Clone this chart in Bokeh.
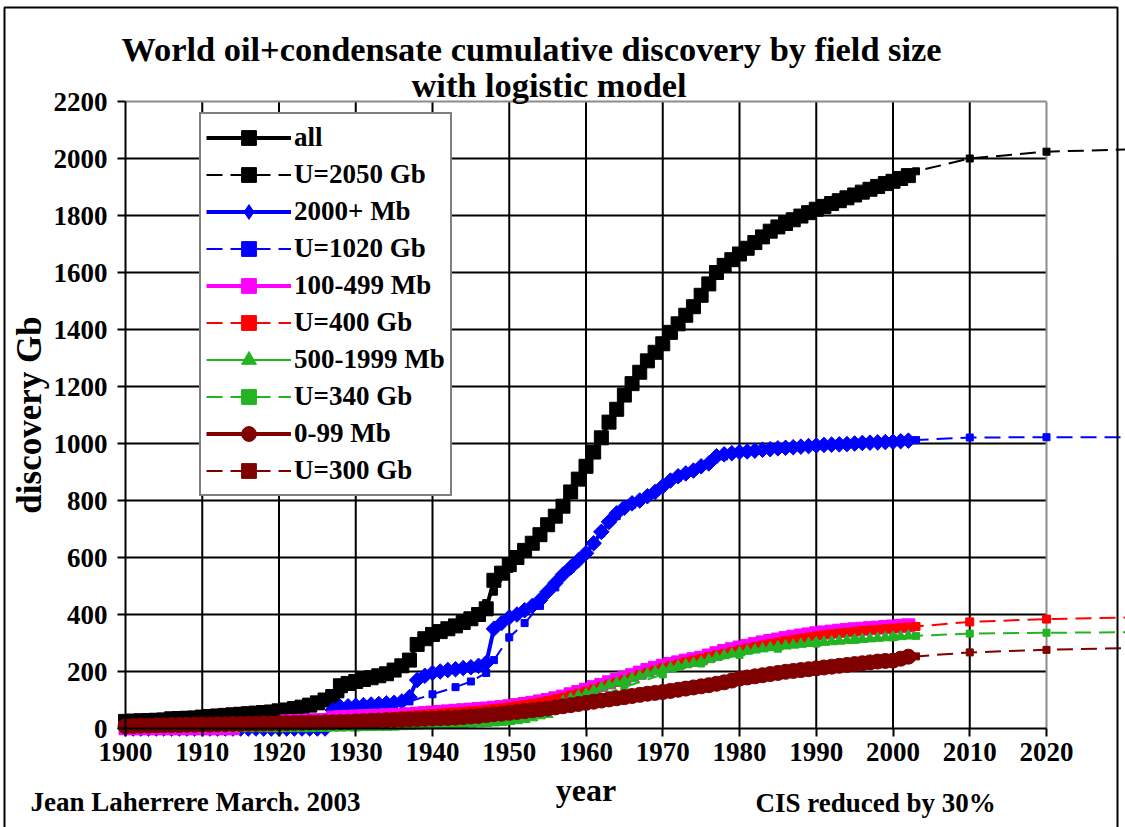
from bokeh.plotting import figure
from bokeh.models import Range1d, FixedTicker, Label, BoxAnnotation, Legend, LegendItem
from bokeh.embed import file_html
from bokeh.resources import INLINE

# ---------------- data (Gb) ----------------
YEARS = list(range(1900, 2003))

ALL = [25, 26, 27, 28, 29, 30, 34, 35, 36, 37,
       40, 42, 44, 46, 48, 50, 52, 54, 56, 58,
       62, 65, 70, 75, 82, 90, 100, 112, 150, 158,
       165, 172, 178, 185, 192, 205, 220, 240, 295, 315,
       330, 340, 350, 360, 372, 385, 400, 420, 520, 545,
       575, 600, 625, 650, 680, 715, 745, 780, 830, 875,
       920, 970, 1020, 1075, 1120, 1170, 1210, 1250, 1290, 1320,
       1350, 1390, 1420, 1450, 1480, 1520, 1560, 1600, 1625, 1645,
       1665, 1685, 1705, 1725, 1745, 1760, 1772, 1785, 1798, 1810,
       1822, 1832, 1842, 1852, 1862, 1872, 1882, 1892, 1902, 1912,
       1920, 1930, 1940]

GIANT = [0, 0, 0, 0, 0, 0, 0, 0, 0, 0,
         0, 0, 0, 0, 0, 0, 0, 0, 0, 0,
         0, 0, 0, 0, 0, 0, 0, 65, 75, 78,
         80, 82, 84, 86, 88, 90, 95, 110, 170, 185,
         195, 200, 205, 208, 212, 215, 220, 230, 350, 370,
         390, 400, 415, 430, 450, 480, 510, 540, 565, 590,
         615, 650, 690, 725, 755, 775, 790, 800, 815, 830,
         850, 870, 885, 895, 905, 920, 930, 955, 962, 966,
         970, 972, 975, 978, 980, 983, 985, 987, 989, 991,
         993, 995, 996, 997, 998, 1000, 1002, 1003, 1004, 1005,
         1006, 1008, 1010]

MID = [1, 1, 1, 1, 1, 1, 1, 1, 1, 1,
       1, 1, 1, 1, 1, 12, 13, 14, 15, 16,
       18, 25, 26, 27, 28, 29, 30, 38, 40, 41,
       42, 43, 44, 45, 46, 47, 48, 50, 52, 54,
       56, 58, 60, 62, 64, 66, 68, 70, 73, 75,
       78, 82, 86, 90, 95, 100, 106, 112, 120, 128,
       136, 145, 153, 162, 170, 178, 187, 196, 205, 213,
       220, 226, 232, 238, 243, 248, 256, 264, 272, 278,
       284, 290, 296, 302, 307, 312, 317, 322, 326, 330,
       334, 337, 340, 343, 346, 348, 350, 352, 354, 356,
       358, 360, 362]

LARGE = [0, 0, 0, 0, 0, 0, 0, 0, 0, 0,
         0, 0, 0, 0, 0, 0, 0, 0, 0, 0,
         0, 0, 0, 0, 0, 1, 1, 2, 2, 3,
         3, 4, 4, 5, 5, 6, 7, 8, 9, 10,
         11, 12, 13, 14, 15, 16, 17, 18, 20, 22,
         25, 28, 32, 38, 45, 50, 70, 95, 105, 115,
         122, 133, 143, 152, 160, 168, 176, 184, 192, 200,
         207, 213, 219, 224, 229, 234, 242, 250, 256, 262,
         267, 272, 276, 280, 284, 287, 290, 293, 296, 299,
         301, 303, 305, 307, 309, 311, 313, 315, 317, 319,
         321, 323, 325]

SMALL = [8, 9, 10, 10, 11, 11, 12, 12, 13, 13,
         14, 14, 15, 15, 16, 16, 17, 17, 18, 18,
         19, 19, 20, 20, 21, 21, 22, 22, 23, 24,
         25, 26, 27, 28, 29, 30, 31, 32, 33, 34,
         35, 36, 37, 38, 40, 42, 44, 47, 50, 52,
         55, 58, 61, 64, 67, 70, 74, 78, 82, 86,
         90, 94, 98, 102, 106, 110, 114, 118, 122, 125,
         128, 132, 136, 140, 144, 148, 152, 157, 162, 168,
         175, 179, 183, 187, 191, 195, 199, 202, 205, 208,
         211, 214, 217, 220, 223, 226, 229, 232, 235, 237,
         238, 245, 252]

# logistic models
M_ALL_YEARS = [1900, 1905, 1910, 1915, 1920, 1925, 1928, 1930, 1933, 1935, 1937,
               1940, 1943, 1945, 1946, 1947, 1948, 1950, 1952, 1955, 1958, 1960,
               1963, 1965, 1968, 1970, 1973, 1975, 1978, 1980, 1985, 1990, 1995,
               2000, 2003, 2010, 2020, 2040]
M_ALL = [22, 28, 38, 48, 60, 85, 120, 160, 185, 205, 240,
         320, 355, 385, 405, 440, 480, 560, 620, 710, 830, 915,
         1070, 1165, 1285, 1350, 1450, 1515, 1620, 1665, 1760, 1822, 1872,
         1920, 1955, 2000, 2024, 2038]

M_GIANT_YEARS = [1900, 1920, 1925, 1927, 1930, 1935, 1937, 1940, 1943, 1945, 1947,
                 1948, 1950, 1952, 1954, 1956, 1958, 1960, 1962, 1964, 1966, 1968,
                 1970, 1972, 1974, 1976, 1978, 1980, 1985, 1990, 1995, 2000, 2003,
                 2010, 2020, 2040]
M_GIANT = [0, 0, 5, 40, 60, 85, 95, 120, 145, 165, 195,
           240, 320, 370, 430, 495, 560, 615, 685, 745, 785, 815,
           850, 880, 905, 930, 955, 968, 983, 994, 1001, 1007, 1012,
           1021, 1022, 1022]

M_MID_YEARS = list(range(1900, 2004)) + [2010, 2020, 2040]
M_MID = [2, 2, 3, 3, 3, 4, 4, 5, 5, 6,
         6, 7, 8, 8, 9, 10, 11, 12, 13, 14,
         15, 17, 18, 19, 21, 23, 24, 26, 28, 30,
         32, 34, 36, 38, 40, 42, 44, 46, 48, 50,
         52, 54, 56, 58, 60, 62, 64, 67, 70, 73,
         76, 80, 84, 88, 93, 98, 104, 110, 117, 124,
         131, 139, 147, 155, 163, 171, 180, 189, 197, 205,
         213, 220, 227, 234, 240, 246, 252, 258, 264, 270,
         276, 282, 288, 293, 298, 303, 308, 313, 317, 321,
         325, 329, 332, 335, 338, 341, 344, 346, 348, 350,
         352, 354, 356, 358,
         374, 384, 394]

M_LARGE_YEARS = [1900, 1920, 1930, 1935, 1940, 1945, 1950, 1955, 1960, 1965, 1970,
                 1975, 1980, 1985, 1990, 1995, 2000, 2003, 2010, 2020, 2040]
M_LARGE = [0, 1, 4, 7, 12, 20, 35, 60, 100, 145, 190,
           228, 258, 280, 298, 311, 320, 325, 333, 336, 339]

M_SMALL_YEARS = [1900, 1910, 1920, 1930, 1940, 1950, 1960, 1970, 1980, 1990,
                 2000, 2003, 2010, 2020, 2040]
M_SMALL = [5, 12, 18, 25, 35, 53, 88, 128, 172, 208,
           240, 253, 267, 276, 288]

X_TICKS = list(range(1900, 2021, 10))
Y_TICKS = list(range(0, 2201, 200))

FONT = "Liberation Serif"
BLUE = "#0000FF"
MAGENTA = "#FF00FF"
RED = "#FF0000"
GREEN = "#22B422"
MAROON = "#800000"
DASH = "16 8"

# whole canvas is the plot frame; axes sit at fixed data locations
W, H = 1125, 827
X0_PX, X_PER_YEAR = 125, 7.675
Y0_PX, Y_PER_GB = 728, 0.285
x_start = 1900 - X0_PX / X_PER_YEAR
x_end = 1900 + (W - X0_PX) / X_PER_YEAR
y_start = -(H - Y0_PX) / Y_PER_GB
y_end = Y0_PX / Y_PER_GB

p = figure(width=W, height=H, output_backend="svg", toolbar_location=None,
           x_range=Range1d(x_start, x_end), y_range=Range1d(y_start, y_end),
           title=None, min_border=0)
p.outline_line_color = None
p.background_fill_color = "white"
p.border_fill_color = "white"
p.xgrid.visible = False
p.ygrid.visible = False

# grid limited to the 1900-2020 / 0-2200 plot area
p.segment(x0=X_TICKS[1:-1], x1=X_TICKS[1:-1], y0=Y_TICKS[0], y1=Y_TICKS[-1],
          line_color="black", line_width=2)
p.segment(x0=X_TICKS[0], x1=X_TICKS[-1], y0=Y_TICKS[1:-1], y1=Y_TICKS[1:-1],
          line_color="black", line_width=2)
p.segment(x0=[X_TICKS[0], X_TICKS[-1]], y0=[Y_TICKS[-1], Y_TICKS[0]],
          x1=[X_TICKS[-1], X_TICKS[-1]], y1=[Y_TICKS[-1], Y_TICKS[-1]],
          line_color="#8C8C8C", line_width=2)

items = []


def series(xs, ys, label, color, lw, marker, size, dash="solid", angle=0.0,
           legend_marker=None):
    r_line = p.line(xs, ys, color=color, line_width=lw, line_dash=dash)
    rends = [r_line]
    if legend_marker is not None:
        # legend-only marker shape, drawn underneath the real markers
        rends.append(p.scatter(xs, ys, marker=legend_marker, size=size - 2, color=color))
    r_pts = p.scatter(xs, ys, marker=marker, size=size, angle=angle, color=color)
    if legend_marker is None:
        rends.append(r_pts)
    items.append(LegendItem(label=label, renderers=rends))


series(YEARS, ALL, "all", "black", 4, "square", 14)
series(M_ALL_YEARS, M_ALL, "U=2050 Gb", "black", 2, "square", 7, DASH)
series(YEARS, GIANT, "2000+ Mb", BLUE, 4, "square", 11, angle=0.7854,
       legend_marker="diamond")
series(M_GIANT_YEARS, M_GIANT, "U=1020 Gb", BLUE, 2, "square", 7, DASH)
series(YEARS, MID, "100-499 Mb", MAGENTA, 4, "square", 13)
series(M_MID_YEARS, M_MID, "U=400 Gb", RED, 2, "square", 8, DASH)
series(YEARS, LARGE, "500-1999 Mb", GREEN, 2, "triangle", 11)
series(M_LARGE_YEARS, M_LARGE, "U=340 Gb", GREEN, 2, "square", 7, DASH)
series(YEARS, SMALL, "0-99 Mb", MAROON, 4, "circle", 15)
series(M_SMALL_YEARS, M_SMALL, "U=300 Gb", MAROON, 2, "square", 7, DASH)

# axes
for ax, ticks, loc in ((p.xaxis[0], X_TICKS, 0), (p.yaxis[0], Y_TICKS, 1900)):
    ax.fixed_location = loc
    ax.ticker = FixedTicker(ticks=ticks)
    ax.bounds = (ticks[0], ticks[-1])
    ax.axis_line_color = "black"
    ax.axis_line_width = 2
    ax.major_tick_line_color = "black"
    ax.major_tick_line_width = 2
    ax.major_tick_out = 8
    ax.major_tick_in = 0
    ax.minor_tick_line_color = None
    ax.major_label_text_font = FONT
    ax.major_label_text_font_style = "bold"
    ax.major_label_text_font_size = "27px"
    ax.major_label_text_color = "black"
    ax.axis_label_text_font = FONT
    ax.axis_label_text_font_style = "bold"
    ax.axis_label_text_color = "black"

p.xaxis.axis_label = "year"
p.xaxis.axis_label_text_font_size = "32px"
p.xaxis.major_label_standoff = 6
p.xaxis.axis_label_standoff = 8
p.yaxis.axis_label = "discovery Gb"
p.yaxis.axis_label_text_font_size = "35px"
p.yaxis.major_label_standoff = 10
p.yaxis.axis_label_standoff = 2


def text(x, y, s, size):
    p.add_layout(Label(x=x, y=H - y, x_units="screen", y_units="screen", text=s,
                       text_font=FONT, text_font_style="bold", text_font_size=size,
                       text_baseline="middle", text_align="left", text_color="black"))


# titles and footnotes (screen pixels from top-left)
text(121, 48, "World oil+condensate cumulative discovery by field size", "34.4px")
text(411, 84, "with logistic model", "34.4px")
text(30, 801, "Jean Laherrere March. 2003", "27px")
text(755, 802, "CIS reduced by 30%", "27px")

# outer frame of the picture
p.add_layout(BoxAnnotation(left=4, right=1117, top=H - 7, bottom=-30,
                           left_units="screen", right_units="screen",
                           top_units="screen", bottom_units="screen",
                           fill_alpha=0, line_color="black", line_alpha=1,
                           line_width=2))

# legend
lg = Legend(items=items, location=(199, H - 496))
lg.label_text_font = FONT
lg.label_text_font_style = "bold"
lg.label_text_font_size = "27px"
lg.label_text_color = "black"
lg.glyph_width = 85
lg.glyph_height = 37
lg.label_height = 37
lg.label_standoff = 3
lg.spacing = 0
lg.padding = 5
lg.margin = 0
lg.border_line_color = "black"
lg.border_line_width = 2
lg.background_fill_color = "white"
lg.background_fill_alpha = 1
p.add_layout(lg)

open("out.html", "w").write(file_html(p, INLINE))
